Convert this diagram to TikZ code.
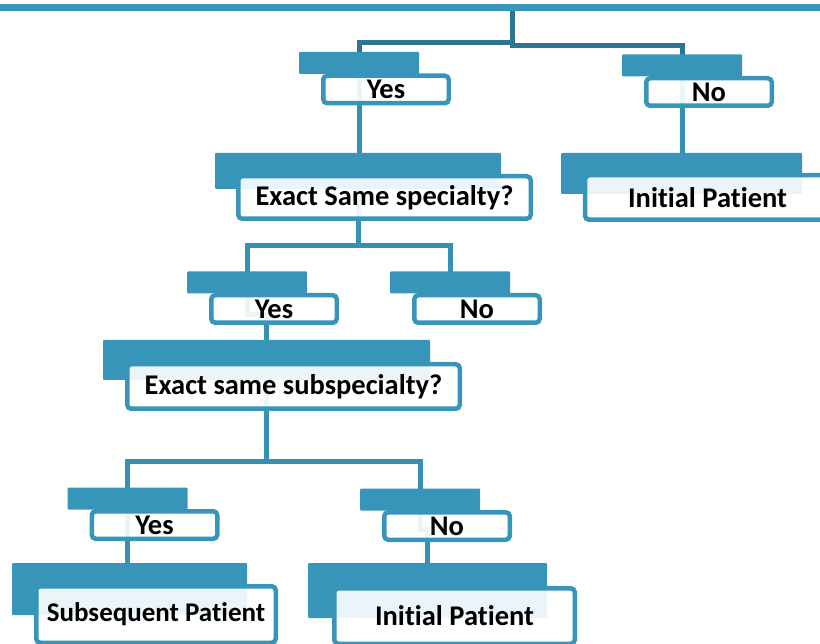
\documentclass[tikz,border=0pt]{standalone}
\usepackage{fontspec}
\setmainfont{Carlito}[Ligatures=NoCommon]
\usetikzlibrary{backgrounds}
\definecolor{cardblue}{HTML}{3795BA}
\definecolor{linkblue}{HTML}{3690B4}
\definecolor{topblue}{HTML}{2C7594}

\tikzset{
  cardbar/.style={fill=cardblue, draw=none, rounded corners=1pt, inner sep=0pt},
  cardbox/.style={draw=cardblue, line width=4.5pt, rounded corners=4pt, fill=white,
    fill opacity=0.9, text opacity=1, text=black, inner sep=0pt,
    font=\bfseries\fontsize{28.5}{32}\selectfont},
  link/.style={draw=linkblue, line width=5pt},
  toplink/.style={draw=topblue, line width=5pt}
}

\begin{document}
\begin{tikzpicture}[x=1pt,y=-1pt]
\clip (0,0) rectangle (820,644);
% bus at the top
\coordinate (busW) at (0,7.5);
\coordinate (busE) at (820,7.5);
\coordinate (root) at (512,7.5);
\draw[cardblue, line width=6.5pt] (busW)--(busE);

% yes / no labels
\foreach \nm/\x/\y/\txt in {yesA/359/63/Yes, noA/682/65.5/No, yesB/247/282.5/Yes,
    noB/450/282.5/No, yesC/127.5/498.5/Yes, noC/420/499.5/No}{
\node[cardbar, minimum width=120pt, minimum height=22pt] (\nm bar) at (\x,\y) {};
\node[cardbox, minimum width=125.5pt, minimum height=27.5pt] (\nm) at ({\x+27},{\y+26.5}) {\txt};
}

% questions and results
\node[cardbar, minimum width=286pt, minimum height=36pt] (specbar) at (358,171) {};
\node[cardbox, minimum width=292.5pt, minimum height=42.5pt] (spec) at (384.5,197.5) {Exact Same specialty?};
\node[cardbar, minimum width=241pt, minimum height=41pt] (initAbar) at (681.5,173.5) {};
\node[cardbox, minimum width=265pt, minimum height=44.5pt] (initA) at (717.5,197.5) {\hspace*{-20pt}Initial Patient};
\node[cardbar, minimum width=327pt, minimum height=40pt] (subspecbar) at (266.5,360) {};
\node[cardbox, minimum width=332.5pt, minimum height=44.5pt] (subspec) at (293.5,386.5) {Exact same subspecialty?};
\node[cardbar, minimum width=235pt, minimum height=52pt] (subseqbar) at (129.5,589) {};
\node[cardbox, minimum width=239.5pt, minimum height=56.5pt, font=\bfseries\fontsize{27}{30}\selectfont] (subseq) at (156,614.5) {Subsequent Patient};
\node[cardbar, minimum width=239pt, minimum height=55pt] (initBbar) at (427.5,590.5) {};
\node[cardbox, minimum width=240.5pt, minimum height=55.5pt] (initB) at (454.5,616) {Initial Patient};

\begin{pgfonlayer}{background}
\draw[toplink] (root) -- ++(0,35) -| (yesAbar.center);
\draw[toplink] (root) -- ++(0,38) -| (noAbar.center);
\draw[link] (yesAbar.center) -- (yesAbar.center |- specbar.center);
\draw[link] (noAbar.center) -- (noAbar.center |- initAbar.center);
\draw[link] (specbar.center) -- ++(0,75) -| (yesBbar.center);
\draw[link] (specbar.center) -- ++(0,75) -| (noBbar.center);
\draw[link] (yesBbar.center) -- ++(0,32) -| (subspecbar.center);
\draw[link] (subspecbar.center) -- ++(0,102) -| (yesCbar.center);
\draw[link] (subspecbar.center) -- ++(0,102) -| (noCbar.center);
\draw[link] (yesCbar.center) -- (yesCbar.center |- subseqbar.center);
\draw[link] (noCbar.center) -- ++(0,30) -| (initBbar.center);
\end{pgfonlayer}
\end{tikzpicture}
\end{document}
